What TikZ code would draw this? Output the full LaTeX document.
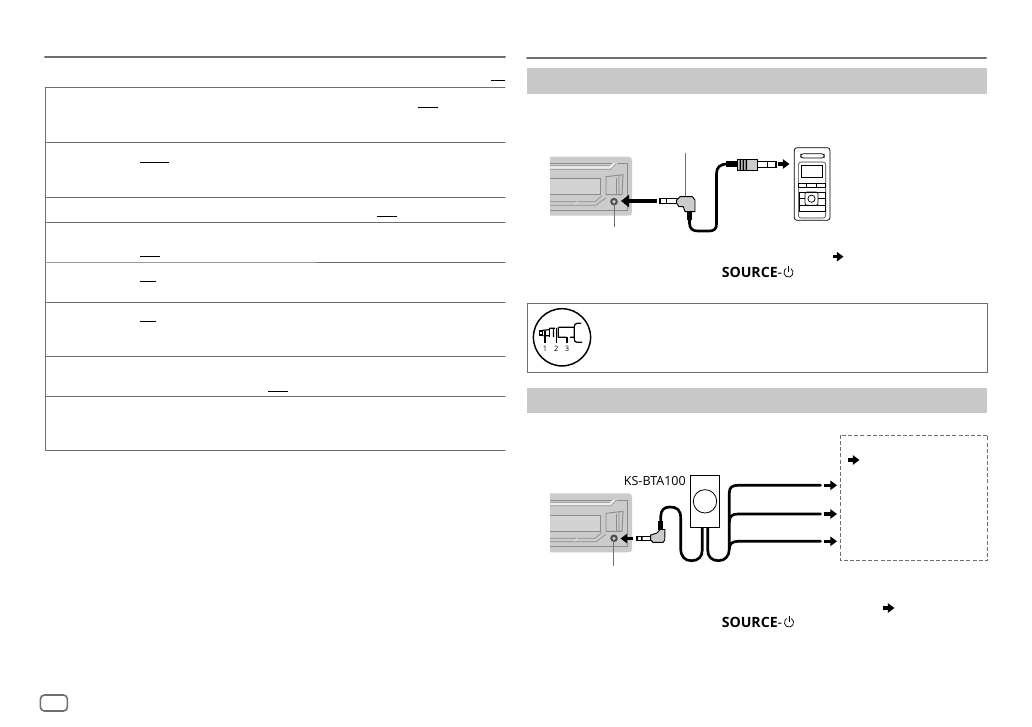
\documentclass[tikz,border=0pt]{standalone}
\usepackage{fontspec}
\usepackage{tikz,tkz-euclide}
\usetikzlibrary{calc,arrows.meta}
\newfontfamily\modelfont{Open Sans}
\definecolor{ruleGray}{HTML}{6E6E6E}
\definecolor{bandGray}{HTML}{C8C8C8}
\definecolor{unitGray}{HTML}{CBCBCB}
\definecolor{unitLine}{HTML}{8C8C8C}
\definecolor{leadGray}{HTML}{707070}
\tikzset{
	rulethick/.style={ruleGray,line width=1.5pt},
	rulethin/.style={ruleGray,line width=.75pt},
	ruleblack/.style={black,line width=.75pt},
	cable/.style={black,line width=2pt,line cap=round},
	strain/.style={black,line width=4pt},
	plugbody/.style={fill=unitGray,draw=black,line width=.7pt,line join=round},
	plugmetal/.style={fill=white,draw=black,line width=.7pt},
	leader/.style={leadGray,line width=.55pt},
	fatarrow/.style={black,line width=2.4pt,-{Triangle[length=5pt,width=7pt]}},
	keylabel/.style={inner sep=0pt,anchor=west,font=\modelfont\fontsize{10.6}{12}\selectfont},
	numlabel/.style={inner sep=0pt,font=\modelfont\fontsize{5.6}{6}\selectfont},
}
\newcommand{\headunit}[2]{%
	\begin{scope}[shift={(#1,#2)}]
		\fill[unitGray] (0,0) -- (78,0) .. controls (81,0) and (82,1) .. (82,4) -- (82,55)
			.. controls (82,58) and (81,59) .. (78,59) -- (0,59) -- cycle;
		\draw[unitLine,line width=.6pt] (0,7) -- (77,7) -- (77,53.5) -- (0,53.5);
		\fill[white!65!unitGray] (0,9) -- (60,9) -- (63,6.5) -- (67,6.5) -- (62,12.5) -- (0,12.5) -- cycle;
		\draw[unitLine,line width=.5pt] (0,9) -- (60,9) (0,12.5) -- (61,12.5) -- (66,7);
		\fill[white!15!unitGray] (0,22) rectangle (50,38);
		\draw[unitLine,line width=.5pt] (0,22) -- (50,22) -- (50,38) -- (0,38);
		\draw[unitLine,line width=.7pt] (56,20) -- (73,18) -- (72,38) -- (56,38) -- cycle (69,18.5) -- (69,38);
		\draw[unitLine,line width=.5pt] (0,45) -- (45,45) -- (52,39) (0,48.5) -- (46,48.5) -- (56,41);
		\fill[white!30!unitGray] (26,45.5) -- (28,44) -- (26,48) -- (24,48) -- cycle;
		\draw[unitLine,line width=.5pt] (66,21) -- (66,38);
		\fill[black!70] (64,45) circle (3.8);
		\fill[unitGray] (64,45) circle (1.8);
	\end{scope}
}
\newcommand{\powericon}[2]{%
	\draw[black,line width=.55pt] (#1,#2) ++(2.3,-4) arc[start angle=60,end angle=-240,radius=3.45pt];
	\draw[black,line width=.55pt] (#1,#2) ++(0,-6.5) -- ++(0,6);
}
\begin{document}
\begin{tikzpicture}[x=.75pt,y=-.75pt]
	\useasboundingbox (0,0) rectangle (1032,726);
	% left page rules
	\tkzDefPoint(45,57){LA}\tkzDefPoint(505,57){LB}
	\tkzDefPoint(527,58){RA}\tkzDefPoint(986,58){RB}
	\tkzDefPoint(45.3,87.3){TA}\tkzDefPoint(505,87.3){TB}
	\tkzDefPoint(45.3,142.3){TC}\tkzDefPoint(505,142.3){TD}
	\tkzDefPoint(45.3,197.3){TE}\tkzDefPoint(505,197.3){TF}
	\tkzDefPoint(45.3,222.3){TG}\tkzDefPoint(505,222.3){TH}
	\tkzDefPoint(316,262.3){TI}\tkzDefPoint(505,262.3){TJ}
	\tkzDefPoint(45.3,302.3){TK}\tkzDefPoint(505,302.3){TL}
	\tkzDefPoint(45.3,356.3){TM}\tkzDefPoint(505,356.3){TN}
	\tkzDefPoint(45.3,396.3){TO}\tkzDefPoint(505,396.3){TP}
	\tkzDefPoint(45.3,450.3){TQ}\tkzDefPoint(505,450.3){TR}
	\tkzDefPoint(45.3,262.3){TS}
	\tkzDrawSegments[rulethick](LA,LB RA,RB)
	\tkzDrawSegments[rulethin](TA,TB TC,TD TE,TF TG,TH TI,TJ TK,TL TM,TN TO,TP TQ,TR TA,TQ)
	\tkzDrawSegments[ruleGray!70,line width=.75pt](TS,TI)

	% underlines of default values
	\draw[ruleblack] (491,80) -- (505,80) (418,107) -- (438,107) (140,162.3) -- (169,162.3)
		(377,216) -- (397,216) (140,256.3) -- (160,256.3) (140,281) -- (156,281)
		(140,321.3) -- (156,321.3) (268,391.3) -- (288,391.3);

	% grey bands and frames
	\fill[bandGray] (527,68) rectangle (987,93.7);
	\fill[bandGray] (527,388) rectangle (987,412.7);
	\draw[rulethin] (527.3,303.3) rectangle (987,372.3);
	\draw[rulethin,dashed,dash pattern=on 3pt off 1.6pt] (840.3,435) rectangle (987.7,560.3);
	\draw[ruleGray,line width=1.2pt,rounded corners=3pt] (40.4,695) rectangle (67.4,711);

	% upper connection
	\headunit{550}{156.7}
	\draw[leader] (685.7,152.7) -- (685.7,198);
	\draw[leader] (614,203) -- (614,226.7);
	\draw[fatarrow,line width=3pt,-{Triangle[length=6pt,width=9pt]}] (656.7,201) -- (621,201);
	\draw[plugmetal] (659,198.2) rectangle (677,203.8);
	\fill[black] (659,198.2) rectangle (661,203.8);
	\draw[black,line width=.6pt] (666.5,198.2) -- (666.5,203.8);
	\draw[cable] (689.5,218) -- (689.5,223) .. controls (689.5,229) and (693,231) .. (698,231)
		-- (709,231) .. controls (714,231) and (716.5,229) .. (716.5,224) -- (716.5,174)
		.. controls (716.5,167) and (720,164) .. (728,164);
	\draw[strain] (689.5,210) -- (689.5,220);
	\draw[strain,line width=4.6pt] (726,164) -- (737,164);
	\draw[plugbody] (676.7,200) -- (680,196.7) -- (692.3,196.7) -- (695,200) -- (695,211.7)
		-- (685,211.7) -- (683.3,206.7) -- (679,206.7) -- (676.7,203.3) -- cycle;
	\draw[plugbody] (737,159) rectangle (757.7,170);
	\fill[black] (739.5,159) rectangle (741,170) (742.5,159) rectangle (744,170) (745.5,159) rectangle (747,170);
	\draw[plugmetal] (757.7,161.7) rectangle (776,167.3);
	\draw[black,line width=.6pt] (767,161.7) -- (767,167.3);
	\fill[black] (774.5,161.7) rectangle (776,167.3);
	\draw[fatarrow] (777.7,164) -- (789.5,164);

	% player
	\draw[black,line width=.55pt,rounded corners=2pt] (794.3,147.7) rectangle (830,220.3);
	\draw[black,line width=.55pt,rounded corners=2pt] (800.7,153.7) rectangle (824.3,158);
	\draw[black!80,line width=.45pt,rounded corners=2pt] (798.3,162) rectangle (825.7,218);
	\draw[black,line width=.55pt] (801.7,165.3) rectangle (822.3,177.7);
	\draw[black,line width=.55pt] (798.3,183) rectangle (825.7,187.7)
		(806.7,183) -- (806.7,187.7) (816.7,183) -- (816.7,187.7);
	\draw[black,line width=.55pt,rounded corners=1.5pt] (805,192) rectangle (818,205.3);
	\draw[black,line width=.55pt] (811.5,198.7) circle (3.6);
	\draw[black,line width=.55pt] (799,192) -- (825,192) (799,205.3) -- (825,205.3)
		(799,198.7) -- (805,198.7) (818,198.7) -- (825,198.7)
		(799,192) -- (799,211) -- (825,211) -- (825,192);

	% plug inset
	\draw[black,line width=1.1pt] (562,337.3) circle (28.6);
	\draw[black,line width=.9pt] (581,323.3) -- (577,323.3) .. controls (575,323.3) and (574.3,325) .. (574.3,327)
		-- (574.3,338.5) .. controls (574.3,341) and (575,342.3) .. (577,342.3) -- (582,342.3);
	\draw[black,line width=.9pt] (539.3,331) rectangle (542.7,335);
	\draw[black,line width=.9pt] (542.7,330.3) -- (549.3,329.7) (549.3,328.3) -- (555,328.3)
		(558.3,327.3) -- (574.3,327.3) (543.3,335.7) -- (549.3,335.7) (553.5,328) -- (553.5,337)
		(558.3,327.3) -- (558.3,337.3) -- (566.7,337.3) (570,337.3) -- (574.3,337.3);
	\draw[black,line width=1.3pt] (549.5,328.3) -- (549.5,337);
	\draw[black,line width=1.2pt] (545,331) -- (545,343.3) (567,337) -- (567,343.3);
	\draw[black,line width=.6pt] (556,328.3) -- (556,343.3);
	\node[numlabel] (numA) at (545,349) {1};
	\node[numlabel] (numB) at (556.3,349) {2};
	\node[numlabel] (numC) at (567,349) {3};

	\node[keylabel] (srcA) at (721.5,272) {\textbf{SOURCE}-};
	\powericon{788.5}{272.5}
	\draw[fatarrow] (833,256.7) -- (843.5,256.7);

	% lower connection
	\headunit{550}{493.3}
	\draw[leader] (613.7,540) -- (613.7,565.7);
	\draw[fatarrow] (633,538.5) -- (620.5,538.5);
	\draw[plugmetal] (636,536.3) rectangle (651,540.7);
	\fill[black] (636,536.3) rectangle (638,540.7) (641,536.3) rectangle (642.5,540.7);
	\draw[cable] (660.7,524) -- (660.7,517) .. controls (660.7,510) and (664,507) .. (670,507)
		.. controls (677,507) and (680.7,510) .. (680.7,518) -- (680.7,548)
		.. controls (680.7,557) and (685,560.7) .. (691.5,560.7)
		.. controls (698,560.7) and (702.3,557) .. (702.3,550) -- (702.3,527.3);
	\draw[cable] (707.7,527.3) -- (707.7,550) .. controls (707.7,557) and (712,560.7) .. (718.5,560.7)
		.. controls (725,560.7) and (729.3,556) .. (729.3,549) -- (729.3,493)
		.. controls (729.3,487.5) and (732,485.3) .. (738,485.3) -- (820.5,485.3);
	\draw[cable] (729.3,522) .. controls (729.3,516.5) and (732,514) .. (738,514) -- (820.5,514);
	\draw[cable] (729.3,549) .. controls (729.3,544) and (732,541.3) .. (738,541.3) -- (820.5,541.3);
	\draw[strain] (660.7,521) -- (660.7,530);
	\draw[plugbody] (650.7,535) -- (657,533) -- (660,529.5) -- (665,529.5) -- (664.7,540) -- (663,542.4)
		-- (653,542.4) -- (650.7,540) -- cycle;
	\draw[fatarrow] (824,485.3) -- (837,485.3);
	\draw[fatarrow] (824,514) -- (837,514);
	\draw[fatarrow] (824,541.3) -- (837,541.3);
	\draw[fill=white,draw=black,line width=.7pt] (690.3,475.3) rectangle (719.3,527.3);
	\draw[black,line width=.6pt] (705,501.3) circle (11.7);
	\node[inner sep=0pt,anchor=east,font=\modelfont\fontsize{9.4}{11}\selectfont] (btaName) at (686,480.7) {KS-BTA100};

	\draw[fatarrow] (848.3,460) -- (859.5,460);
	\draw[fatarrow] (883,608) -- (894.5,608);
	\node[keylabel] (srcB) at (721.5,622) {\textbf{SOURCE}-};
	\powericon{789}{622.5}
\end{tikzpicture}
\end{document}
